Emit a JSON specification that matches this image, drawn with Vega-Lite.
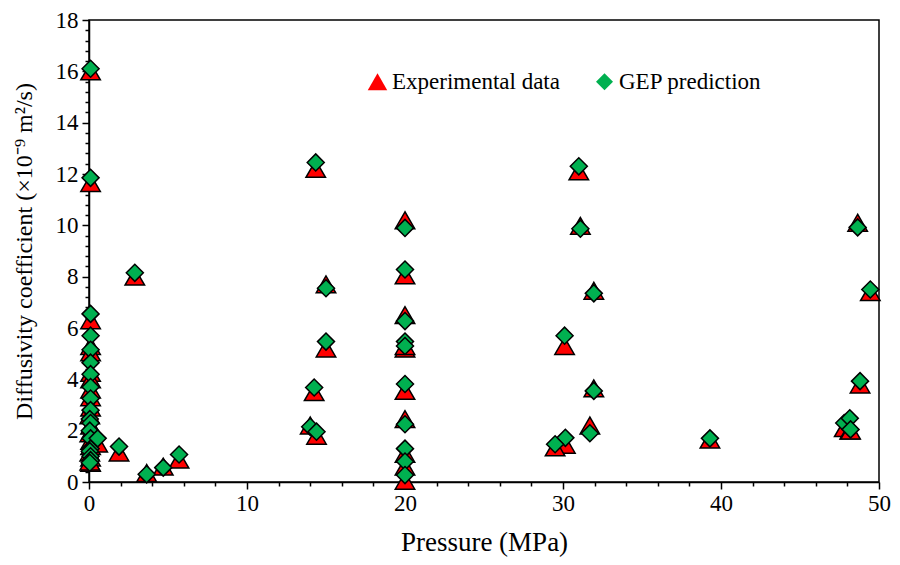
{
  "$schema": "https://vega.github.io/schema/vega-lite/v6.json",
  "autosize": "none",
  "width": 790,
  "height": 462,
  "padding": {"left": 89, "top": 20, "right": 21, "bottom": 83},
  "background": "white",
  "config": {
    "view": {"stroke": "black", "strokeWidth": 1.5},
    "font": "Liberation Serif"
  },
  "data": {"values": [
    {"p": 0.1, "Experimental data": 16.0, "GEP prediction": 16.1},
    {"p": 0.1, "Experimental data": 11.65, "GEP prediction": 11.85},
    {"p": 0.1, "Experimental data": 6.3, "GEP prediction": 6.55},
    {"p": 0.1, "Experimental data": 5.3, "GEP prediction": 5.7},
    {"p": 0.1, "Experimental data": 5.05, "GEP prediction": 5.15},
    {"p": 0.1, "Experimental data": 4.25, "GEP prediction": 4.65},
    {"p": 0.1, "Experimental data": 4.0, "GEP prediction": 4.2},
    {"p": 0.1, "Experimental data": 3.6, "GEP prediction": 3.7},
    {"p": 0.1, "Experimental data": 3.3, "GEP prediction": 3.25},
    {"p": 0.1, "Experimental data": 2.9, "GEP prediction": 2.8},
    {"p": 0.05, "Experimental data": 2.6, "GEP prediction": 2.45},
    {"p": 0.1, "Experimental data": 2.2, "GEP prediction": 2.3},
    {"p": 0.05, "Experimental data": 1.9, "GEP prediction": 2.0},
    {"p": 0.1, "Experimental data": 1.6, "GEP prediction": 1.7},
    {"p": 0.1, "Experimental data": 1.4, "GEP prediction": 1.3},
    {"p": 0.05, "Experimental data": 1.15, "GEP prediction": 1.2},
    {"p": 0.1, "Experimental data": 0.95, "GEP prediction": 1.0},
    {"p": 0.1, "Experimental data": 0.75, "GEP prediction": 0.85},
    {"p": 0.05, "Experimental data": 0.8, "GEP prediction": 0.75},
    {"p": 0.55, "Experimental data": 1.5, "GEP prediction": 1.7},
    {"p": 1.9, "Experimental data": 1.15, "GEP prediction": 1.38},
    {"p": 2.9, "Experimental data": 8.0, "GEP prediction": 8.15},
    {"p": 3.65, "Experimental data": 0.35, "GEP prediction": 0.3},
    {"p": 4.7, "Experimental data": 0.6, "GEP prediction": 0.56},
    {"p": 5.7, "Experimental data": 0.87, "GEP prediction": 1.07},
    {"p": 14.35, "Experimental data": 12.2, "GEP prediction": 12.45},
    {"p": 15.0, "Experimental data": 7.7, "GEP prediction": 7.55},
    {"p": 15.0, "Experimental data": 5.2, "GEP prediction": 5.47},
    {"p": 14.25, "Experimental data": 3.5, "GEP prediction": 3.68},
    {"p": 14.0, "Experimental data": 2.2, "GEP prediction": 2.15},
    {"p": 14.4, "Experimental data": 1.8, "GEP prediction": 1.96},
    {"p": 20, "Experimental data": 10.2, "GEP prediction": 9.9},
    {"p": 20, "Experimental data": 8.05, "GEP prediction": 8.28},
    {"p": 20, "Experimental data": 6.5, "GEP prediction": 6.27},
    {"p": 20, "Experimental data": 5.2, "GEP prediction": 5.47},
    {"p": 20, "Experimental data": 5.3, "GEP prediction": 5.3},
    {"p": 20, "Experimental data": 3.55, "GEP prediction": 3.82},
    {"p": 20, "Experimental data": 2.45, "GEP prediction": 2.25},
    {"p": 20, "Experimental data": 1.1, "GEP prediction": 1.3},
    {"p": 20, "Experimental data": 0.6, "GEP prediction": 0.8},
    {"p": 20, "Experimental data": 0.05, "GEP prediction": 0.27},
    {"p": 31.0, "Experimental data": 12.1, "GEP prediction": 12.3},
    {"p": 31.1, "Experimental data": 9.98, "GEP prediction": 9.87},
    {"p": 31.95, "Experimental data": 7.45, "GEP prediction": 7.35},
    {"p": 30.1, "Experimental data": 5.3, "GEP prediction": 5.7},
    {"p": 31.95, "Experimental data": 3.65, "GEP prediction": 3.55},
    {"p": 31.7, "Experimental data": 2.2, "GEP prediction": 1.9},
    {"p": 30.15, "Experimental data": 1.45, "GEP prediction": 1.72},
    {"p": 29.5, "Experimental data": 1.35, "GEP prediction": 1.47},
    {"p": 39.3, "Experimental data": 1.65, "GEP prediction": 1.7},
    {"p": 48.65, "Experimental data": 10.1, "GEP prediction": 9.92},
    {"p": 49.45, "Experimental data": 7.4, "GEP prediction": 7.5},
    {"p": 48.8, "Experimental data": 3.8, "GEP prediction": 3.93},
    {"p": 47.8, "Experimental data": 2.1, "GEP prediction": 2.3},
    {"p": 48.15, "Experimental data": 2.0, "GEP prediction": 2.48},
    {"p": 48.2, "Experimental data": 2.0, "GEP prediction": 2.05}
  ]},
  "transform": [
    {"fold": ["Experimental data", "GEP prediction"], "as": ["series", "v"]}
  ],
  "mark": {"type": "point", "filled": true, "opacity": 1, "stroke": "black", "strokeWidth": 1.5},
  "encoding": {
    "x": {
      "field": "p", "type": "quantitative",
      "scale": {"domain": [0, 50], "nice": false, "zero": false},
      "axis": {
        "title": "Pressure (MPa)",
        "titleFont": "Liberation Serif", "titleFontSize": 27, "titleFontWeight": "normal", "titleColor": "black",
        "titlePadding": 14,
        "values": [0,2,4,6,8,10,12,14,16,18,20,22,24,26,28,30,32,34,36,38,40,42,44,46,48,50],
        "labelExpr": "indexof([0,10,20,30,40,50], datum.value) >= 0 ? format(datum.value, 'd') : ''",
        "labelFont": "Liberation Serif", "labelFontSize": 23, "labelColor": "black",
        "labelFlush": false, "labelOverlap": false, "labelPadding": 3,
        "tickSize": {"condition": {"test": "indexof([0,10,20,30,40,50], datum.value) >= 0", "value": 7}, "value": 4},
        "tickColor": "black", "tickWidth": 1.5,
        "domainColor": "black", "domainWidth": 1.5,
        "grid": false
      }
    },
    "y": {
      "field": "v", "type": "quantitative",
      "scale": {"domain": [0, 18], "nice": false},
      "axis": {
        "title": "Diffusivity coefficient (×10⁻⁹ m²/s)",
        "titleFont": "Liberation Serif", "titleFontSize": 24, "titleFontWeight": "normal", "titleColor": "black",
        "titlePadding": 19,
        "values": [0,0.4,0.8,1.2,1.6,2,2.4,2.8,3.2,3.6,4,4.4,4.8,5.2,5.6,6,6.4,6.8,7.2,7.6,8,8.4,8.8,9.2,9.6,10,10.4,10.8,11.2,11.6,12,12.4,12.8,13.2,13.6,14,14.4,14.8,15.2,15.6,16,16.4,16.8,17.2,17.6,18],
        "labelExpr": "indexof([0,2,4,6,8,10,12,14,16,18], datum.value) >= 0 ? format(datum.value, 'd') : ''",
        "labelFont": "Liberation Serif", "labelFontSize": 23, "labelColor": "black",
        "labelFlush": false, "labelOverlap": false, "labelPadding": 4,
        "tickSize": {"condition": {"test": "indexof([0,2,4,6,8,10,12,14,16,18], datum.value) >= 0", "value": 7}, "value": 4},
        "tickColor": "black", "tickWidth": 1.5,
        "domainColor": "black", "domainWidth": 1.5,
        "grid": false
      }
    },
    "color": {
      "field": "series", "type": "nominal",
      "scale": {"domain": ["Experimental data", "GEP prediction"], "range": ["#FF0000", "#00B050"]},
      "legend": {
        "orient": "none", "legendX": 277, "legendY": 50, "direction": "horizontal", "title": null,
        "labelFont": "Liberation Serif", "labelFontSize": 23, "labelColor": "black", "labelOffset": 3, "labelLimit": 400,
        "symbolSize": 200, "symbolStrokeColor": "black", "symbolStrokeWidth": 1.5, "symbolOpacity": 1,
        "columnPadding": 32
      }
    },
    "shape": {
      "field": "series", "type": "nominal",
      "scale": {"domain": ["Experimental data", "GEP prediction"], "range": ["triangle-up", "diamond"]},
      "legend": {
        "orient": "none", "legendX": 277, "legendY": 50, "direction": "horizontal", "title": null,
        "labelFont": "Liberation Serif", "labelFontSize": 23, "labelColor": "black", "labelOffset": 3, "labelLimit": 400,
        "symbolSize": 200, "symbolStrokeColor": "black", "symbolStrokeWidth": 1.5, "symbolOpacity": 1,
        "columnPadding": 32
      }
    },
    "size": {
      "field": "series", "type": "nominal",
      "scale": {"domain": ["Experimental data", "GEP prediction"], "range": [380, 290]},
      "legend": null
    },
    "order": {"field": "series", "type": "nominal", "sort": "ascending"}
  }
}
